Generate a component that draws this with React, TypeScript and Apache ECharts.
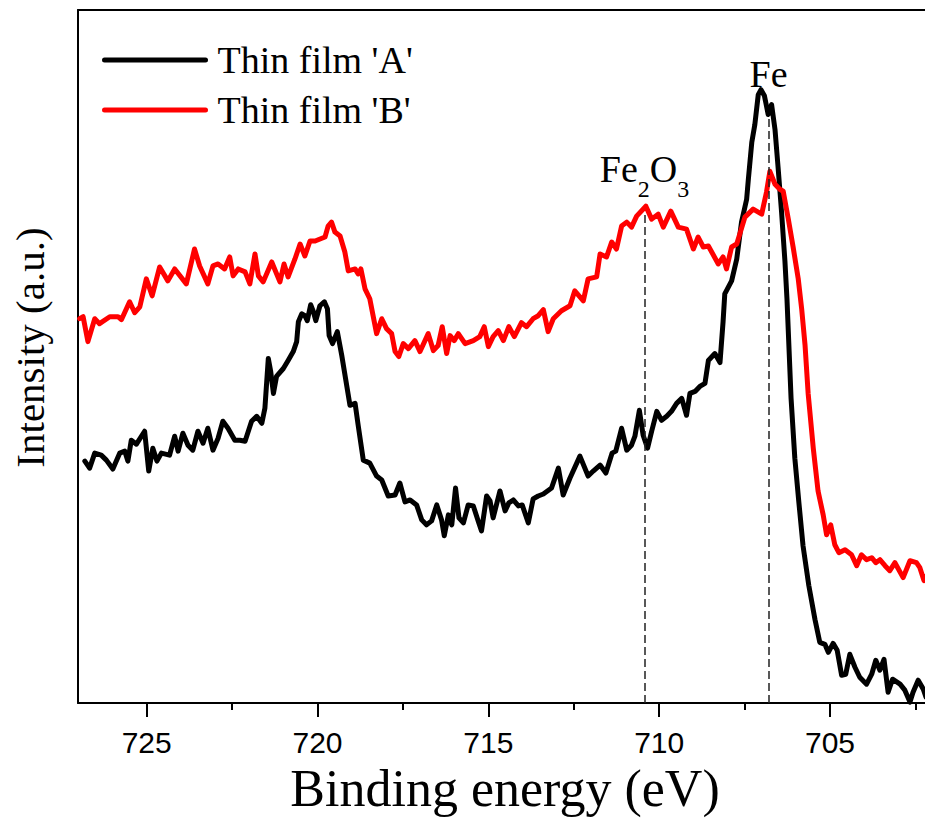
import React, { useEffect, useRef } from "react";
import * as echarts from "echarts";

// Binding energy (eV) and intensity (a.u.)
const energyA = [
  726.81, 726.67, 726.52, 726.33, 726.18, 725.99, 725.79, 725.64, 725.55, 725.45,
  725.30, 725.06, 724.94, 724.82, 724.70, 724.57, 724.33, 724.18, 724.08, 723.94,
  723.79, 723.65, 723.50, 723.35, 723.21, 723.06, 722.91, 722.77, 722.62, 722.42,
  722.27, 722.12, 721.93, 721.78, 721.63, 721.54, 721.44, 721.37, 721.29, 721.20,
  721.00, 720.86, 720.71, 720.61, 720.56, 720.46, 720.37, 720.30, 720.20, 720.12,
  720.05, 719.93, 719.80, 719.71, 719.66, 719.56, 719.42, 719.29, 719.05, 718.90,
  718.81, 718.66, 718.47, 718.27, 718.12, 717.93, 717.73, 717.59, 717.44, 717.29,
  717.10, 716.95, 716.81, 716.66, 716.51, 716.37, 716.29, 716.17, 716.07, 715.96,
  715.86, 715.73, 715.59, 715.44, 715.30, 715.20, 715.05, 714.95, 714.86, 714.66,
  714.51, 714.40, 714.27, 714.12, 714.01, 713.83, 713.69, 713.54, 713.39, 713.15,
  712.95, 712.81, 712.61, 712.32, 712.08, 711.93, 711.73, 711.56, 711.38, 711.27,
  711.10, 710.95, 710.81, 710.71, 710.58, 710.47, 710.34, 710.22, 710.07, 709.93,
  709.78, 709.64, 709.49, 709.34, 709.20, 709.10, 708.95, 708.81, 708.66, 708.56,
  708.37, 708.22, 708.13, 708.08, 707.88, 707.73, 707.59, 707.44, 707.39, 707.29,
  707.20, 707.10, 707.02, 706.92, 706.81, 706.71, 706.61, 706.52, 706.42, 706.32,
  706.26, 706.14, 706.03, 705.91, 705.79, 705.62, 705.44, 705.30, 705.15, 705.05,
  704.91, 704.79, 704.66, 704.54, 704.42, 704.27, 704.13, 703.93, 703.78, 703.66,
  703.54, 703.42, 703.30, 703.17, 702.95, 702.81, 702.66, 702.57, 702.42, 702.27,
  702.19,
];
const intensityA = [
  243, 236, 251, 249, 244, 235, 251, 253, 243, 264,
  260, 273, 233, 256, 243, 251, 249, 268, 253, 271,
  259, 254, 273, 261, 276, 254, 266, 283, 276, 264,
  264, 263, 283, 288, 281, 296, 346, 333, 311, 328,
  336, 344, 353, 363, 383, 391, 389, 384, 400, 393,
  384, 399, 403, 396, 369, 361, 373, 349, 299, 301,
  279, 244, 241, 228, 224, 208, 209, 221, 202, 204,
  199, 184, 179, 183, 199, 184, 168, 189, 179, 216,
  186, 181, 199, 198, 183, 173, 208, 203, 186, 213,
  193, 201, 204, 198, 199, 181, 205, 208, 210, 216,
  236, 209, 226, 248, 228, 233, 239, 231, 251, 253,
  276, 254, 259, 268, 294, 269, 256, 273, 293, 284,
  288, 293, 301, 306, 289, 311, 313, 318, 321, 344,
  351, 342, 383, 411, 424, 446, 483, 506, 526, 563,
  581, 611, 616, 610, 591, 601, 576, 538, 494, 444,
  406, 306, 246, 201, 158, 118, 84, 61, 59, 51,
  60, 53, 28, 29, 49, 36, 26, 19, 29, 43,
  33, 44, 11, 24, 19, 13, 1, 11, 23, 14,
  6,
];
const energyB = [
  726.96, 726.86, 726.72, 726.52, 726.38, 726.08, 725.84, 725.74, 725.50, 725.35,
  725.20, 725.01, 724.84, 724.62, 724.38, 724.18, 723.84, 723.60, 723.45, 723.21,
  723.06, 722.91, 722.72, 722.57, 722.47, 722.32, 722.12, 721.98, 721.83, 721.73,
  721.59, 721.34, 721.10, 720.98, 720.86, 720.66, 720.51, 720.37, 720.22, 720.07,
  719.78, 719.69, 719.59, 719.49, 719.34, 719.20, 719.10, 718.90, 718.81, 718.73,
  718.61, 718.47, 718.27, 718.12, 717.98, 717.83, 717.73, 717.62, 717.49, 717.34,
  717.15, 717.00, 716.76, 716.61, 716.47, 716.35, 716.22, 716.12, 716.00, 715.88,
  715.68, 715.44, 715.25, 715.12, 715.00, 714.86, 714.71, 714.56, 714.40, 714.24,
  714.03, 713.88, 713.69, 713.54, 713.39, 713.25, 713.10, 712.86, 712.61, 712.47,
  712.22, 712.08, 711.83, 711.73, 711.54, 711.39, 711.25, 711.10, 710.95, 710.81,
  710.66, 710.39, 710.22, 710.03, 709.88, 709.66, 709.44, 709.20, 709.00, 708.86,
  708.71, 708.56, 708.27, 708.13, 708.03, 707.88, 707.73, 707.49, 707.25, 707.10,
  707.00, 706.86, 706.76, 706.61, 706.47, 706.37, 706.22, 706.08, 705.93, 705.83,
  705.73, 705.64, 705.49, 705.35, 705.20, 705.10, 704.98, 704.86, 704.74, 704.56,
  704.37, 704.22, 704.08, 703.93, 703.78, 703.66, 703.54, 703.39, 703.25, 703.10,
  702.86, 702.66, 702.47, 702.37, 702.25, 702.17,
];
const intensityB = [
  386, 388, 363, 386, 381, 388, 388, 385, 403, 392,
  398, 426, 409, 438, 424, 436, 421, 456, 439, 421,
  439, 441, 436, 448, 429, 436, 433, 421, 451, 429,
  423, 443, 423, 441, 428, 446, 461, 449, 464, 464,
  468, 479, 483, 473, 469, 453, 434, 436, 431, 436,
  416, 406, 371, 386, 376, 371, 353, 348, 361, 356,
  364, 353, 371, 354, 359, 378, 351, 369, 364, 371,
  361, 364, 368, 378, 358, 368, 374, 364, 378, 368,
  382, 378, 386, 389, 395, 373, 386, 394, 399, 414,
  404, 426, 428, 451, 448, 463, 456, 479, 483, 478,
  489, 499, 486, 491, 478, 494, 478, 476, 456, 468,
  458, 459, 441, 448, 436, 458, 461, 488, 496, 493,
  491, 513, 534, 521, 516, 514, 486, 458, 426, 396,
  359, 311, 256, 213, 189, 169, 179, 159, 151, 154,
  149, 138, 149, 144, 146, 141, 144, 138, 133, 141,
  126, 143, 141, 136, 123, 128,
];

const seriesNames = ["Thin film 'A'", "Thin film 'B'"];
const seriesColors = ["#000000", "#ff0000"];
const majorTicks = [705, 710, 715, 720, 725];
const minorTicks = [702.5, 707.5, 712.5, 717.5, 722.5];
const peakEnergies = [710.43, 706.8]; // Fe2O3, Fe
const peakTops = [493, 589];
const xRange = [702.22, 727.01];
const yRange = [0, 696];

const SERIF = "'Liberation Serif', 'Times New Roman', serif";
const SANS = "'Liberation Sans', Arial, sans-serif";

export default function App() {
  const ref = useRef<HTMLDivElement>(null);

  useEffect(() => {
    if (!ref.current) return;
    const chart = echarts.init(ref.current, null, { renderer: "svg" });
    const toData = (e: number[], v: number[]) => e.map((x, i) => [x, v[i]]);
    const axisLineStyle = { color: "#000", width: 2 };
    const xBase = {
      type: "value",
      min: xRange[0],
      max: xRange[1],
      inverse: true,
      splitLine: { show: false },
    };

    chart.setOption({
      animation: false,
      backgroundColor: "#ffffff",
      textStyle: { fontFamily: SERIF },
      grid: { left: 78, right: 0, top: 10, bottom: 113, containLabel: false },
      legend: {
        orient: "vertical",
        left: 102,
        top: 41,
        padding: 0,
        itemGap: 12,
        itemWidth: 101,
        itemHeight: 6,
        selectedMode: false,
        data: seriesNames,
        itemStyle: { opacity: 0, borderWidth: 0 },
        lineStyle: { width: 5, cap: "round" },
        textStyle: {
          fontFamily: SERIF,
          fontSize: 38,
          lineHeight: 38,
          color: "#000",
          padding: [0, 0, 0, 7],
        },
      },
      xAxis: [
        {
          ...xBase,
          position: "bottom",
          name: "Binding energy (eV)",
          nameLocation: "middle",
          nameGap: 57,
          nameTextStyle: {
            fontFamily: SERIF,
            fontSize: 52,
            lineHeight: 52,
            color: "#000",
            padding: [0, 0, 0, 7],
          },
          axisLine: { show: true, onZero: false, lineStyle: axisLineStyle },
          axisTick: {
            show: true,
            inside: false,
            length: 14,
            lineStyle: axisLineStyle,
            customValues: majorTicks,
          },
          axisLabel: {
            show: true,
            customValues: majorTicks,
            margin: 24,
            fontFamily: SANS,
            fontSize: 30,
            lineHeight: 30,
            color: "#000",
          },
        },
        {
          ...xBase,
          position: "top",
          axisLine: { show: true, onZero: false, lineStyle: axisLineStyle },
          axisTick: { show: false },
          axisLabel: { show: false },
        },
        {
          ...xBase,
          position: "bottom",
          axisLine: { show: false, onZero: false },
          axisTick: {
            show: true,
            inside: false,
            length: 7,
            lineStyle: axisLineStyle,
            customValues: minorTicks,
          },
          axisLabel: { show: false },
        },
      ],
      yAxis: {
        type: "value",
        min: yRange[0],
        max: yRange[1],
        name: "Intensity (a.u.)",
        nameLocation: "middle",
        nameGap: 28,
        nameTextStyle: {
          fontFamily: SERIF,
          fontSize: 41,
          lineHeight: 41,
          color: "#000",
          padding: [0, 0, 0, 18],
        },
        axisLine: { show: true, onZero: false, lineStyle: axisLineStyle },
        axisTick: { show: false },
        axisLabel: { show: false },
        splitLine: { show: false },
      },
      series: [
        {
          type: "line",
          name: seriesNames[0],
          xAxisIndex: 0,
          yAxisIndex: 0,
          data: toData(energyA, intensityA),
          showSymbol: false,
          symbol: "none",
          lineStyle: { color: seriesColors[0], width: 5, join: "round", cap: "round" },
          itemStyle: { color: seriesColors[0] },
          emphasis: { disabled: true },
          markLine: {
            silent: true,
            symbol: ["none", "none"],
            emphasis: { disabled: true },
            lineStyle: { color: "#222", width: 1.5, type: [8, 4] },
            label: {
              show: true,
              position: "end",
              distance: 24,
              formatter: "Fe",
              color: "#000",
              fontFamily: SERIF,
              fontSize: 38,
              lineHeight: 38,
            },
            data: [
              [
                { coord: [peakEnergies[1], yRange[0]] },
                { coord: [peakEnergies[1], peakTops[1]] },
              ],
            ],
          },
        },
        {
          type: "line",
          name: seriesNames[1],
          xAxisIndex: 0,
          yAxisIndex: 0,
          data: toData(energyB, intensityB),
          showSymbol: false,
          symbol: "none",
          lineStyle: { color: seriesColors[1], width: 5, join: "round", cap: "round" },
          itemStyle: { color: seriesColors[1] },
          emphasis: { disabled: true },
          markLine: {
            silent: true,
            symbol: ["none", "none"],
            emphasis: { disabled: true },
            lineStyle: { color: "#222", width: 1.5, type: [8, 4] },
            label: {
              show: true,
              position: "end",
              distance: 11,
              formatter: "{m|Fe}{s|2}{m|O}{s|3}",
              color: "#000",
              rich: {
                m: {
                  fontFamily: SERIF,
                  fontSize: 38,
                  lineHeight: 38,
                  color: "#000",
                  verticalAlign: "top",
                },
                s: {
                  fontFamily: SERIF,
                  fontSize: 24,
                  lineHeight: 51,
                  padding: [27, 0, 0, 0],
                  color: "#000",
                  verticalAlign: "top",
                },
              },
            },
            data: [
              [
                { coord: [peakEnergies[0], yRange[0]] },
                { coord: [peakEnergies[0], peakTops[0]] },
              ],
            ],
          },
        },
      ],
    });

    return () => chart.dispose();
  }, []);

  return (
    <div
      style={{
        position: "absolute",
        left: 0,
        top: 0,
        width: 925,
        height: 819,
        overflow: "hidden",
        background: "#fff",
      }}
    >
      <div ref={ref} style={{ width: 925, height: 819 }} />
    </div>
  );
}
